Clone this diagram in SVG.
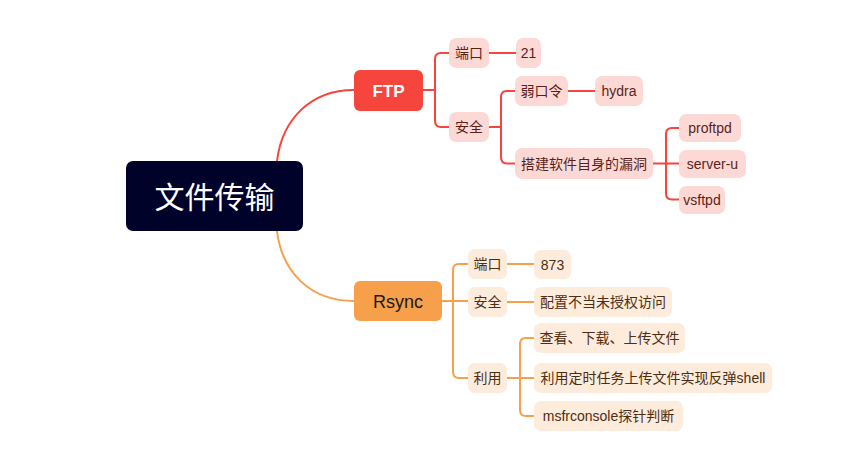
<svg xmlns="http://www.w3.org/2000/svg" width="866" height="474" viewBox="0 0 866 474">
<style>
text{font-family:"Liberation Sans","Noto Sans CJK SC",sans-serif;text-anchor:middle;dominant-baseline:central}
.c{fill:none;stroke-width:2;stroke-linecap:round}
.r{stroke:#f5453d}
.o{stroke:#f7a04b}
.fr rect{fill:#fdd9d6}
.fr text{fill:#5a1f1a;font-size:14px}
.fo rect{fill:#fdebdc}
.fo text{fill:#4d2e12;font-size:14px}
</style>
<rect width="866" height="474" fill="#ffffff"/>
<g id="connectors">
<path class="c r" d="M277,161 C282,120 310,90 354,90"/>
<path class="c o" d="M277,231 C282,272 310,301 354,301"/>
<path class="c r" d="M423,90 H435"/>
<path class="c r" d="M449,53 H441 Q435,53 435,59 V121 Q435,127 441,127 H449"/>
<path class="c r" d="M489,53 H516"/>
<path class="c r" d="M489,127 H501"/>
<path class="c r" d="M515,91 H507 Q501,91 501,97 V157 Q501,163.5 507,163.5 H515"/>
<path class="c r" d="M568,91 H595"/>
<path class="c r" d="M653,163.5 H679"/>
<path class="c r" d="M679,128 H672 Q666,128 666,134 V193.5 Q666,199.5 672,199.5 H679"/>
<path class="c o" d="M442,301 H468"/>
<path class="c o" d="M468,264 H459 Q453,264 453,270 V372 Q453,378 459,378 H468"/>
<path class="c o" d="M507,264 H534"/>
<path class="c o" d="M507,302 H534"/>
<path class="c o" d="M507,378 H534"/>
<path class="c o" d="M534,338 H526 Q520,338 520,344 V410 Q520,416 526,416 H534"/>
</g>
<g id="root"><rect x="126" y="161" width="177" height="70" rx="7" fill="#000229"/><text x="214.5" y="197" fill="#ffffff" font-size="30">文件传输</text></g>
<g id="ftp"><rect x="354" y="70" width="69" height="41" rx="6" fill="#f5453d"/><text x="388.5" y="91" fill="#ffffff" font-size="17" font-weight="bold">FTP</text></g>
<g id="rsync"><rect x="354" y="281" width="88" height="40" rx="6" fill="#f7a04b"/><text x="398" y="301.5" fill="#1a1a1a" font-size="18">Rsync</text></g>
<g id="ftp-port" class="fr"><rect x="449" y="38" width="40" height="30" rx="7"/><text x="469" y="53">端口</text></g>
<g id="ftp-sec" class="fr"><rect x="449" y="112" width="40" height="30" rx="7"/><text x="469" y="127">安全</text></g>
<g id="ftp-21" class="fr"><rect x="516" y="38" width="25" height="30" rx="7"/><text x="528.5" y="53">21</text></g>
<g id="ftp-weak" class="fr"><rect x="515" y="76" width="53" height="30" rx="7"/><text x="541.5" y="91">弱口令</text></g>
<g id="ftp-hydra" class="fr"><rect x="595" y="76" width="48" height="30" rx="7"/><text x="619" y="91">hydra</text></g>
<g id="ftp-vuln" class="fr"><rect x="515" y="148" width="138" height="31" rx="7"/><text x="584" y="163.5">搭建软件自身的漏洞</text></g>
<g id="ftp-proftpd" class="fr"><rect x="679" y="114" width="62" height="28" rx="7"/><text x="710" y="128">proftpd</text></g>
<g id="ftp-serveru" class="fr"><rect x="679" y="150" width="67" height="28" rx="7"/><text x="712.5" y="164">server-u</text></g>
<g id="ftp-vsftpd" class="fr"><rect x="679" y="186" width="46" height="28" rx="7"/><text x="702" y="200">vsftpd</text></g>
<g id="rs-port" class="fo"><rect x="468" y="249" width="39" height="30" rx="7"/><text x="487.5" y="264">端口</text></g>
<g id="rs-sec" class="fo"><rect x="468" y="287" width="39" height="30" rx="7"/><text x="487.5" y="302">安全</text></g>
<g id="rs-use" class="fo"><rect x="468" y="363" width="39" height="30" rx="7"/><text x="487.5" y="378">利用</text></g>
<g id="rs-873" class="fo"><rect x="534" y="250" width="37" height="29" rx="7"/><text x="552.5" y="264.5">873</text></g>
<g id="rs-unauth" class="fo"><rect x="534" y="287" width="138" height="30" rx="7"/><text x="603" y="302">配置不当未授权访问</text></g>
<g id="rs-view" class="fo"><rect x="534" y="323" width="151" height="30" rx="7"/><text x="609.5" y="338">查看、下载、上传文件</text></g>
<g id="rs-shell" class="fo"><rect x="534" y="363" width="238" height="30" rx="7"/><text x="653" y="378">利用定时任务上传文件实现反弹shell</text></g>
<g id="rs-msf" class="fo"><rect x="534" y="401" width="149" height="30" rx="7"/><text x="608.5" y="416">msfrconsole探针判断</text></g>
</svg>
